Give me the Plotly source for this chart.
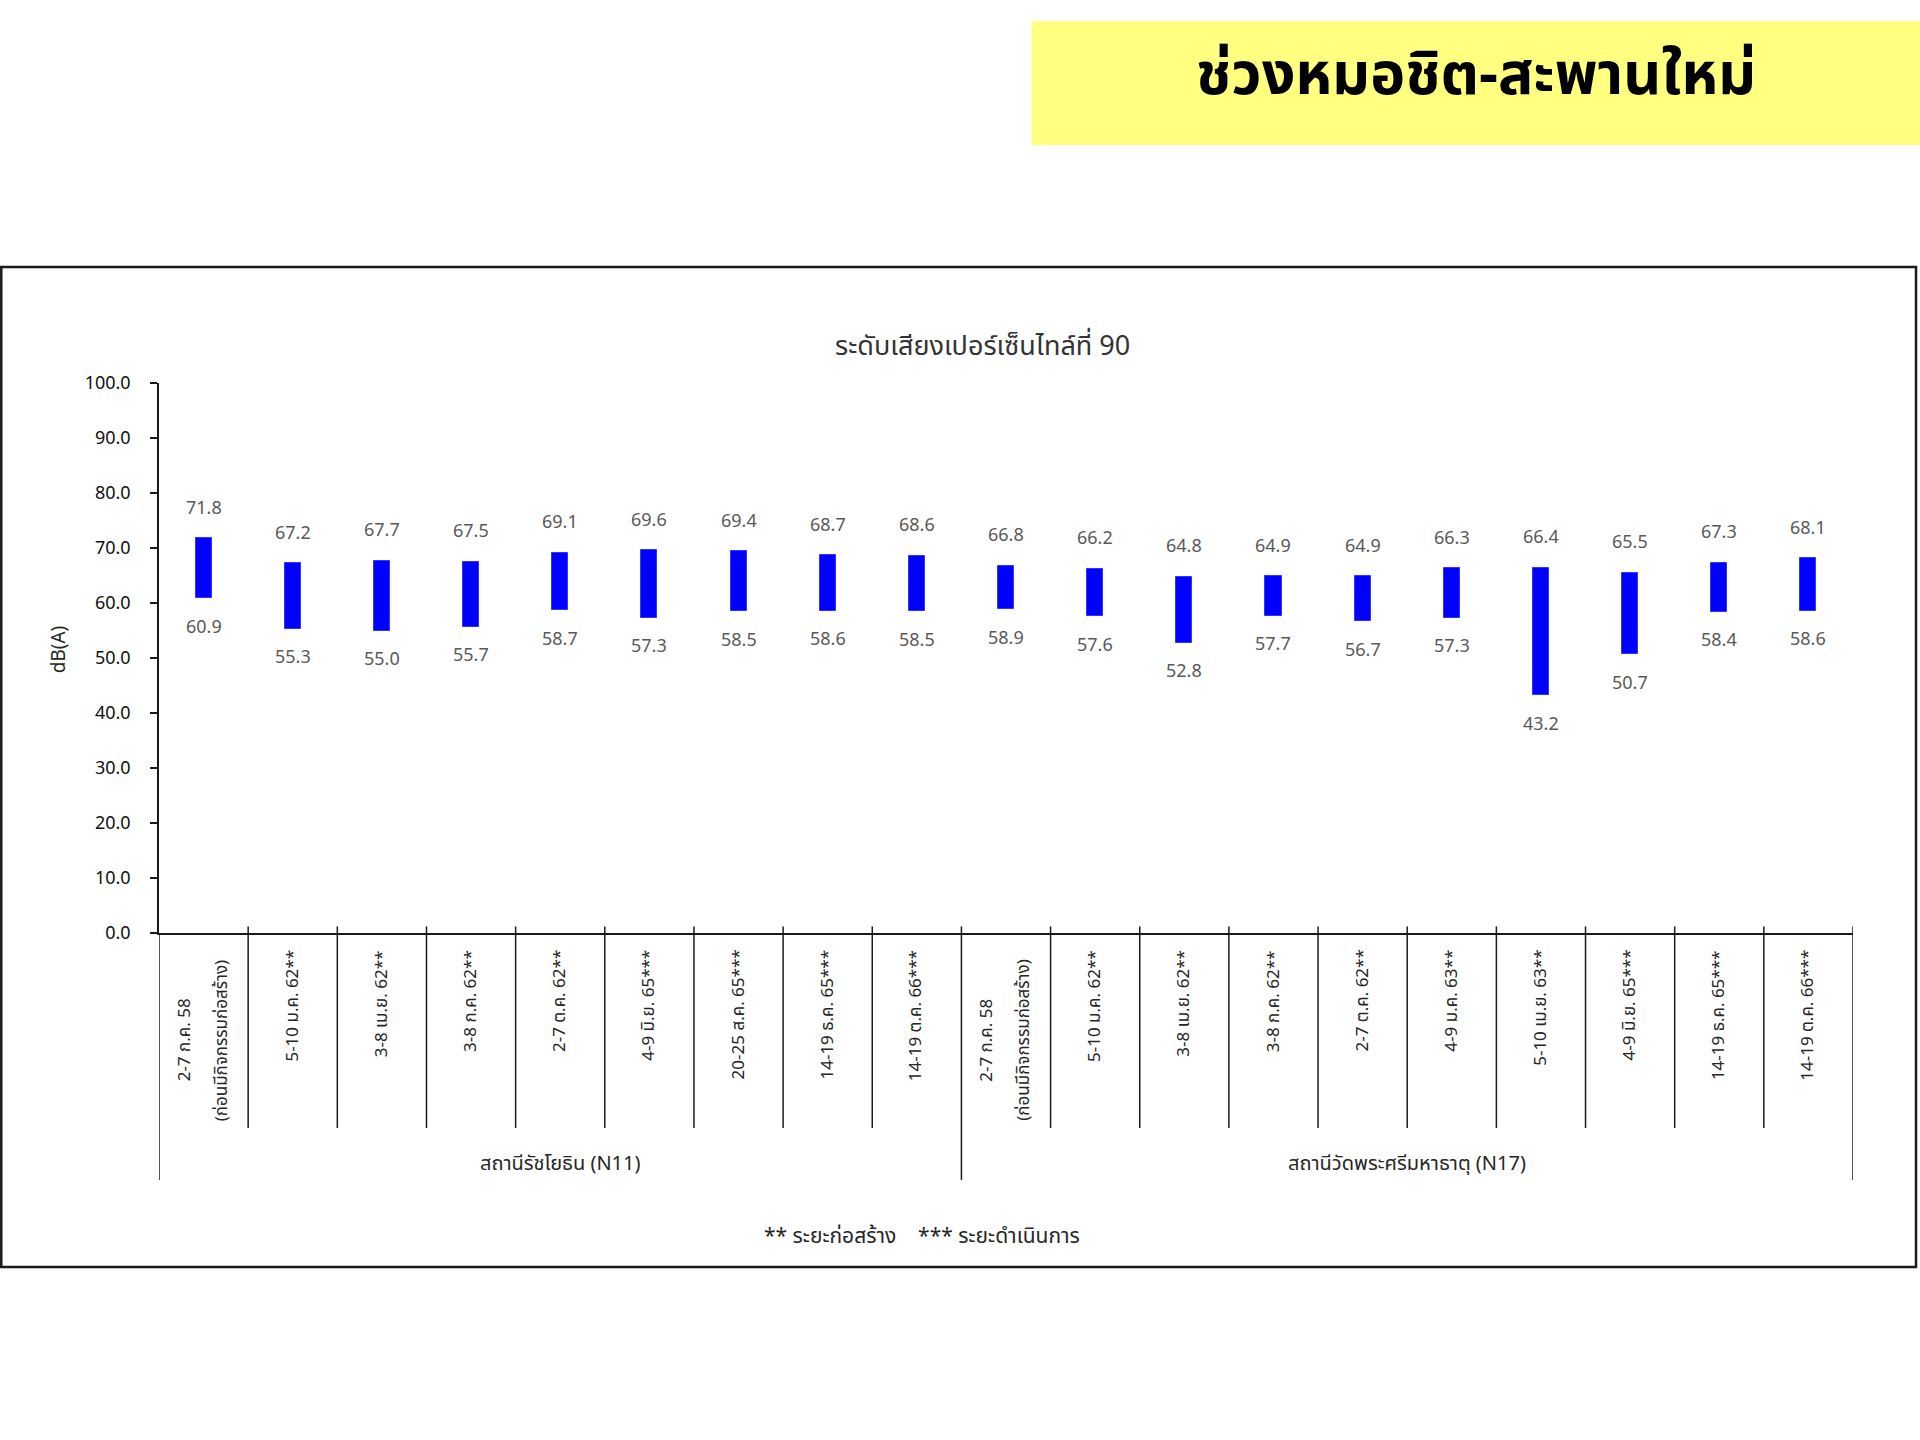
import plotly.graph_objects as go

# ---------------- data ----------------
n11_labels = [
    "2-7 ก.ค. 58<br>(ก่อนมีกิจกรรมก่อสร้าง)",
    "5-10 ม.ค. 62**",
    "3-8 เม.ย. 62**",
    "3-8 ก.ค. 62**",
    "2-7 ต.ค. 62**",
    "4-9 มิ.ย. 65***",
    "20-25 ส.ค. 65***",
    "14-19 ธ.ค. 65***",
    "14-19 ต.ค. 66***",
]
n11_high = [71.8, 67.2, 67.7, 67.5, 69.1, 69.6, 69.4, 68.7, 68.6]
n11_low = [60.9, 55.3, 55.0, 55.7, 58.7, 57.3, 58.5, 58.6, 58.5]

n17_labels = [
    "2-7 ก.ค. 58<br>(ก่อนมีกิจกรรมก่อสร้าง)",
    "5-10 ม.ค. 62**",
    "3-8 เม.ย. 62**",
    "3-8 ก.ค. 62**",
    "2-7 ต.ค. 62**",
    "4-9 ม.ค. 63**",
    "5-10 เม.ย. 63**",
    "4-9 มิ.ย. 65***",
    "14-19 ธ.ค. 65***",
    "14-19 ต.ค. 66***",
]
n17_high = [66.8, 66.2, 64.8, 64.9, 64.9, 66.3, 66.4, 65.5, 67.3, 68.1]
n17_low = [58.9, 57.6, 52.8, 57.7, 56.7, 57.3, 43.2, 50.7, 58.4, 58.6]

group_names = ["สถานีรัชโยธิน (N11)", "สถานีวัดพระศรีมหาธาตุ (N17)"]
y_ticks = [0, 10, 20, 30, 40, 50, 60, 70, 80, 90, 100]

heading = "ช่วงหมอชิต-สะพานใหม่"
chart_title = "ระดับเสียงเปอร์เซ็นไทล์ที่ 90"
y_title = "dB(A)"
footnote = "** ระยะก่อสร้าง&nbsp;&nbsp;&nbsp;&nbsp;*** ระยะดำเนินการ"

# ---------------- build ----------------
labels = n11_labels + n17_labels
highs = n11_high + n17_high
lows = n11_low + n17_low
xs = list(range(len(labels)))
group_sizes = [len(n11_labels), len(n17_labels)]

FONT = "Tahoma, 'Noto Sans Thai', 'Leelawadee UI', 'Noto Sans', 'DejaVu Sans', sans-serif"

fig = go.Figure()
fig.add_trace(go.Bar(
    x=xs,
    y=[h - l for h, l in zip(highs, lows)],
    base=lows,
    width=0.18,
    marker=dict(color="#0000FF", line=dict(color="#3333FF", width=1)),
    hoverinfo="skip",
    showlegend=False,
))

ann = []
# value labels
for x, h, l in zip(xs, highs, lows):
    ann.append(dict(x=x, y=h, xref="x", yref="y", text=f"{h:.1f}", showarrow=False,
                    xanchor="center", yanchor="middle",
                    yshift=30, font=dict(size=18, color="#595959")))
    ann.append(dict(x=x, y=l, xref="x", yref="y", text=f"{l:.1f}", showarrow=False,
                    xanchor="center", yanchor="middle",
                    yshift=-29, font=dict(size=18, color="#595959")))

# category labels (rotated)
for x, lab in zip(xs, labels):
    parts = lab.split("<br>")
    if len(parts) == 1:
        ann.append(dict(x=x, y=-0.027, xref="x", yref="paper", text=lab, showarrow=False,
                        textangle=-90, yanchor="top", xanchor="center",
                        font=dict(size=17, color="#262626")))
    else:
        n = len(parts)
        for k, p in enumerate(parts):
            ann.append(dict(x=x, y=-0.195, xref="x", yref="paper", text=p, showarrow=False,
                            textangle=-90, yanchor="middle", xanchor="center",
                            xshift=(k - (n - 1) / 2) * 37,
                            font=dict(size=17, color="#262626")))

# group labels + dividers
shapes = []
start = 0
bounds = [-0.5]
for name, size in zip(group_names, group_sizes):
    center = start + (size - 1) / 2
    ann.append(dict(x=center, y=-0.42, xref="x", yref="paper", text=name, showarrow=False,
                    xanchor="center", yanchor="middle",
                    font=dict(size=20, color="#262626")))
    start += size
    bounds.append(start - 0.5)

for b in [i + 0.5 for i in xs[:-1]]:
    if b in bounds:
        continue
    shapes.append(dict(type="line", xref="x", yref="paper", x0=b, x1=b, y0=0.012, y1=-0.3545,
                       line=dict(color="#1a1a1a", width=1.5)))
for b in bounds:
    shapes.append(dict(type="line", xref="x", yref="paper", x0=b, x1=b, y0=0.012 if b > -0.5 else 0, y1=-0.449,
                       line=dict(color="#1a1a1a", width=1.5)))

# outer frame of chart
shapes.append(dict(type="rect", xref="paper", yref="paper", x0=-0.0931, x1=1.0372, y0=-0.6073, y1=1.2109,
                   line=dict(color="#1a1a1a", width=2.5), layer="below"))
# yellow heading box
shapes.append(dict(type="rect", xref="paper", yref="paper", x0=0.515, x1=1.06, y0=1.4327, y1=1.6582,
                   fillcolor="#FFFF80", line=dict(width=0), layer="below"))

ann.append(dict(x=0.7775, y=1.558, xref="paper", yref="paper", text=f"<b>{heading}</b>", showarrow=False,
                xanchor="center", yanchor="middle", font=dict(size=59, color="#000000")))
ann.append(dict(x=0.4864, y=1.0655, xref="paper", yref="paper", text=chart_title, showarrow=False,
                xanchor="center", yanchor="middle", font=dict(size=27, color="#333333")))
ann.append(dict(x=-0.059, y=0.516, xref="paper", yref="paper", text=y_title, showarrow=False,
                xanchor="center", yanchor="middle",
                textangle=-90, font=dict(size=19, color="#262626")))
ann.append(dict(x=0.4504, y=-0.5527, xref="paper", yref="paper", text=footnote, showarrow=False,
                xanchor="center", yanchor="middle", font=dict(size=21, color="#262626")))

fig.update_layout(
    width=1920, height=1440,
    margin=dict(l=159, r=67, t=383, b=507),
    paper_bgcolor="white", plot_bgcolor="white",
    font=dict(family=FONT, size=16, color="#262626"),
    annotations=ann, shapes=shapes,
    bargap=0,
)
fig.update_xaxes(range=[-0.5, len(labels) - 0.5], showticklabels=False, ticks="",
                 showgrid=False, zeroline=False, showline=True, linecolor="#1a1a1a", linewidth=1.5,
                 fixedrange=True)
fig.update_yaxes(range=[0, 100], tickvals=y_ticks, tickformat=".1f", ticks="outside", ticklen=7,
                 tickcolor="#1a1a1a", tickwidth=1.5, showgrid=False, zeroline=False, showline=True,
                 linecolor="#1a1a1a", linewidth=1.5, ticklabelstandoff=16,
                 tickfont=dict(size=18, color="#111111"), fixedrange=True)

# remove the default 8px page margin so the figure fills the window exactly
fig.write_html(
    "out.html",
    config={"displayModeBar": False},
    post_script="document.body.style.margin='0';document.body.style.overflow='hidden';"
                "document.documentElement.style.overflow='hidden';",
)
